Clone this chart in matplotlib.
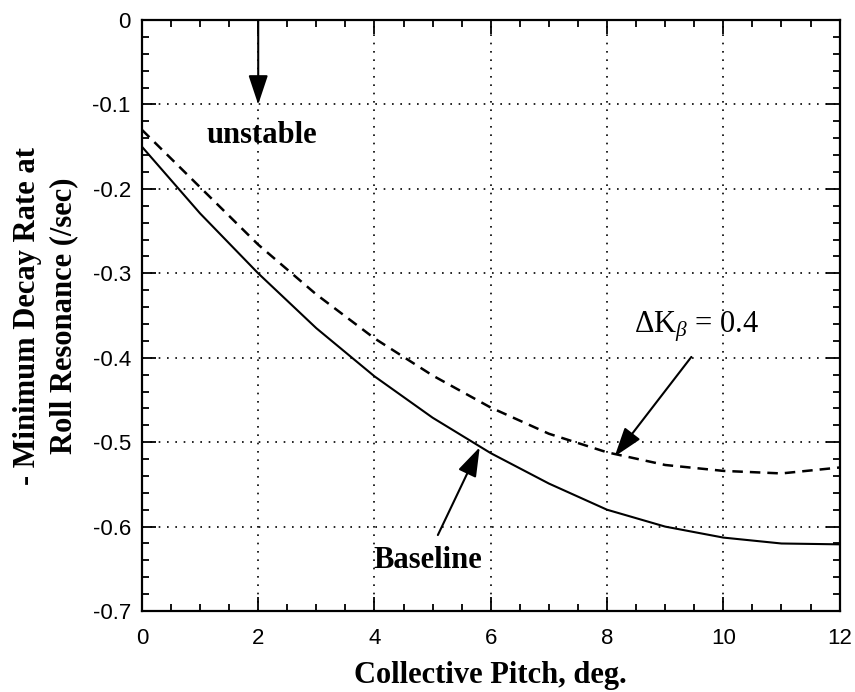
import numpy as np
import matplotlib.pyplot as plt
from matplotlib.ticker import MultipleLocator

# collective pitch (deg)
pitch = [0, 1, 2, 3, 4, 5, 6, 7, 8, 9, 10, 11, 12]
# baseline: - minimum decay rate (/sec)
baseline = [-0.150, -0.229, -0.300, -0.365, -0.422, -0.471, -0.513,
            -0.549, -0.580, -0.600, -0.613, -0.620, -0.621]
# delta K_beta = 0.4
delta_k = [-0.130, -0.198, -0.266, -0.325, -0.377, -0.421, -0.459,
           -0.490, -0.512, -0.527, -0.534, -0.537, -0.530]

serif = 'Liberation Serif'
sans = 'Liberation Sans'
plt.rcParams['mathtext.fontset'] = 'custom'
plt.rcParams['mathtext.rm'] = serif
plt.rcParams['mathtext.it'] = serif + ':italic'

fig = plt.figure(figsize=(8.55, 6.92), dpi=100)
ax = fig.add_axes([0.166, 0.117, 0.816, 0.854])

ax.plot(pitch, baseline, color='black', lw=1.5)
ax.plot(pitch, delta_k, color='black', lw=1.8, dashes=(4.2, 2.8))

ax.set_xlim(0, 12)
ax.set_ylim(-0.7, 0)
ax.xaxis.set_major_locator(MultipleLocator(2))
ax.xaxis.set_minor_locator(MultipleLocator(0.5))
ax.yaxis.set_minor_locator(MultipleLocator(0.02))
ax.set_yticks(np.arange(-0.7, 0.01, 0.1))
ax.set_yticklabels(['-0.7', '-0.6', '-0.5', '-0.4', '-0.3', '-0.2', '-0.1', '0'])
ax.tick_params(which='both', direction='in', top=True, right=True, width=1.3)
ax.tick_params(which='major', length=10, labelsize=16)
ax.tick_params(axis='y', which='major', pad=8)
ax.tick_params(axis='x', which='major', pad=12)
ax.tick_params(which='minor', length=5)
for lab in ax.get_xticklabels() + ax.get_yticklabels():
    lab.set_fontfamily(sans)
for s in ax.spines.values():
    s.set_linewidth(1.6)

ax.grid(True, which='major', color='black', linestyle=(0, (1, 4)), lw=1.2)

ax.set_xlabel('Collective Pitch, deg.', fontfamily=serif, fontweight='bold',
              fontsize=22, labelpad=9)
ax.set_ylabel('- Minimum Decay Rate at\nRoll Resonance (/sec)', fontfamily=serif,
              fontweight='bold', fontsize=22, labelpad=10, linespacing=1.35)

arrow = dict(arrowstyle='-|>,head_length=1.8,head_width=0.6', color='black',
             lw=1.5, shrinkA=0, shrinkB=0, mutation_scale=10)
ax.annotate('', xy=(2, -0.1), xytext=(2, 0), arrowprops=arrow)
ax.text(2.07, -0.146, 'unstable', fontfamily=serif, fontweight='bold',
        fontsize=22, ha='center', va='baseline')

ax.annotate('', xy=(8.13, -0.517), xytext=(9.45, -0.399), arrowprops=arrow)
ax.text(8.47, -0.370, r'$\Delta\mathrm{K}_{\beta}$ = 0.4', fontfamily=serif,
        fontsize=22, ha='left', va='baseline')

ax.annotate('', xy=(5.81, -0.506), xytext=(5.09, -0.610), arrowprops=arrow)
ax.text(4.91, -0.649, 'Baseline', fontfamily=serif, fontweight='bold',
        fontsize=22, ha='center', va='baseline')

fig.savefig('out.png', dpi=100)
